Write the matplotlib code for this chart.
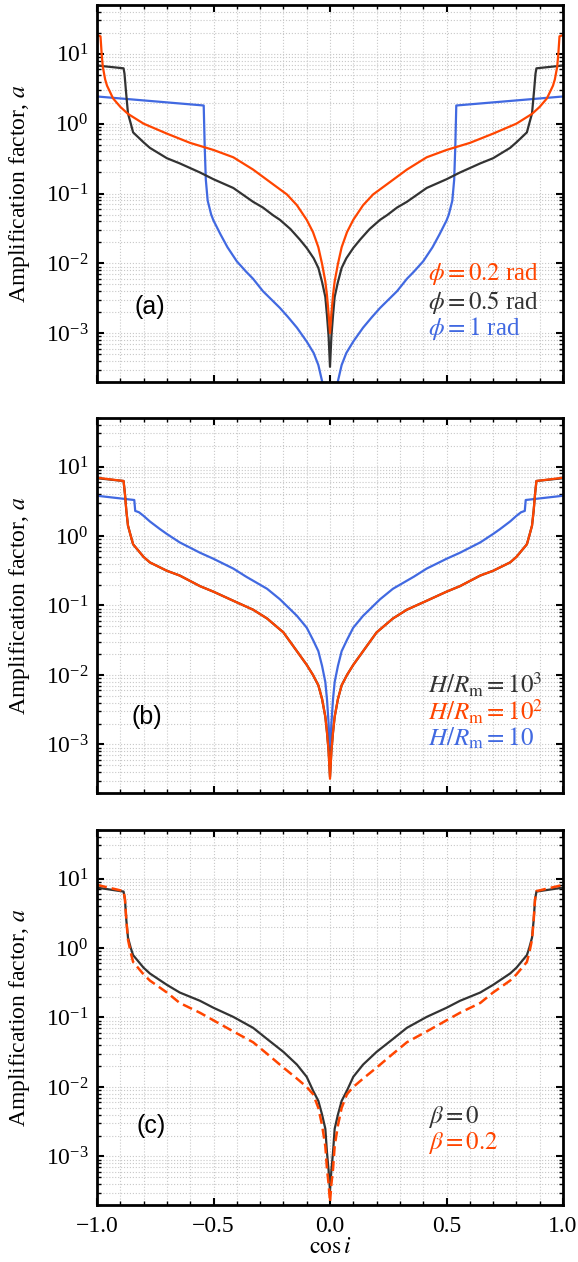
import matplotlib
matplotlib.use("Agg")
import matplotlib.pyplot as plt
from matplotlib.ticker import MultipleLocator, LogLocator, NullFormatter

plt.rcParams['font.family'] = ['Liberation Serif', 'DejaVu Serif']
plt.rcParams['mathtext.fontset'] = 'stix'

# ---------------- data: panel (a) ----------------
a_red_x = [-1.0, -0.985, -0.980, -0.975, -0.965, -0.957, -0.931, -0.90, -0.867, -0.80, -0.70, -0.60,
           -0.50, -0.415, -0.33, -0.245, -0.185, -0.142, -0.10, -0.073, -0.05, -0.034, -0.02, -0.013,
           -0.006, 0.0, 0.006, 0.013, 0.02, 0.034, 0.05, 0.073, 0.10, 0.142, 0.185, 0.245, 0.33, 0.415,
           0.50, 0.60, 0.70, 0.80, 0.867, 0.90, 0.931, 0.957, 0.965, 0.975, 0.980, 0.985, 1.0]
a_red_y = [18.5, 17.8, 10.0, 6.5, 4.3, 3.5, 2.3, 1.74, 1.38, 1.0, 0.72, 0.53,
           0.42, 0.33, 0.22, 0.136, 0.097, 0.068, 0.042, 0.028, 0.017, 0.0098, 0.0055, 0.0035,
           0.0019, 0.0010, 0.0019, 0.0035, 0.0055, 0.0098, 0.017, 0.028, 0.042, 0.068, 0.097, 0.136, 0.22, 0.33,
           0.42, 0.53, 0.72, 1.0, 1.38, 1.74, 2.3, 3.5, 4.3, 6.5, 10.0, 17.8, 18.5]

a_black_x = [-1.0, -0.886, -0.882, -0.876, -0.867, -0.855, -0.845, -0.80, -0.773, -0.70, -0.645, -0.558,
             -0.50, -0.415, -0.33, -0.288, -0.245, -0.215, -0.17, -0.13, -0.10, -0.07, -0.05, -0.034,
             -0.02, -0.013, -0.006, 0.0, 0.006, 0.013, 0.02, 0.034, 0.05, 0.07, 0.10, 0.13, 0.17, 0.215,
             0.245, 0.288, 0.33, 0.415, 0.50, 0.558, 0.645, 0.70, 0.773, 0.80, 0.845, 0.855, 0.867,
             0.876, 0.882, 0.886, 1.0]
a_black_y = [6.8, 6.2, 5.2, 3.0, 1.4, 1.0, 0.75, 0.54, 0.45, 0.32, 0.27, 0.20,
             0.16, 0.12, 0.076, 0.063, 0.049, 0.042, 0.031, 0.022, 0.0166, 0.0118, 0.0086, 0.0054,
             0.0033, 0.0018, 0.0009, 0.00033, 0.0009, 0.0018, 0.0033, 0.0054, 0.0086, 0.0118, 0.0166, 0.022,
             0.031, 0.042, 0.049, 0.063, 0.076, 0.12, 0.16, 0.20, 0.27, 0.32, 0.45, 0.54, 0.75, 1.0, 1.4,
             3.0, 5.2, 6.2, 6.8]

a_blue_x = [-1.0, -0.542, -0.538, -0.533, -0.525, -0.51, -0.50, -0.47, -0.44, -0.40, -0.36, -0.33,
            -0.288, -0.25, -0.215, -0.18, -0.142, -0.10, -0.07, -0.05, -0.03, 0.0, 0.03, 0.05, 0.07,
            0.10, 0.142, 0.18, 0.215, 0.25, 0.288, 0.33, 0.36, 0.40, 0.44, 0.47, 0.50, 0.51, 0.525,
            0.533, 0.538, 0.542, 1.0]
a_blue_y = [2.45, 1.82, 0.50, 0.158, 0.079, 0.050, 0.041, 0.026, 0.017, 0.0107, 0.0076, 0.0060,
            0.0040, 0.0030, 0.0023, 0.0017, 0.0012, 0.00076, 0.00052, 0.00035, 0.00018, 0.000063,
            0.00018, 0.00035, 0.00052, 0.00076, 0.0012, 0.0017, 0.0023, 0.0030, 0.0040, 0.0060, 0.0076,
            0.0107, 0.017, 0.026, 0.041, 0.050, 0.079, 0.158, 0.50, 1.82, 2.45]

# ---------------- data: panel (b) ----------------
b_x = [-1.0, -0.886, -0.880, -0.874, -0.867, -0.855, -0.845, -0.80, -0.773, -0.70, -0.645, -0.558,
       -0.50, -0.415, -0.33, -0.27, -0.20, -0.142, -0.10, -0.073, -0.05, -0.034, -0.02, -0.013,
       -0.006, 0.0, 0.006, 0.013, 0.02, 0.034, 0.05, 0.073, 0.10, 0.142, 0.20, 0.27, 0.33, 0.415,
       0.50, 0.558, 0.645, 0.70, 0.773, 0.80, 0.845, 0.855, 0.867, 0.874, 0.880, 0.886, 1.0]
b_black_y = [6.8, 6.2, 4.0, 2.3, 1.41, 1.0, 0.76, 0.50, 0.417, 0.316, 0.27, 0.19,
             0.158, 0.117, 0.087, 0.065, 0.041, 0.022, 0.014, 0.010, 0.0071, 0.0045, 0.0025, 0.0015,
             0.0008, 0.00034, 0.0008, 0.0015, 0.0025, 0.0045, 0.0071, 0.010, 0.014, 0.022, 0.041, 0.065,
             0.087, 0.117, 0.158, 0.19, 0.27, 0.316, 0.417, 0.50, 0.76, 1.0, 1.41, 2.3, 4.0, 6.2, 6.8]
b_red_y = [6.9, 6.2, 4.0, 2.3, 1.41, 1.0, 0.76, 0.50, 0.417, 0.316, 0.27, 0.19,
           0.158, 0.117, 0.087, 0.065, 0.041, 0.022, 0.014, 0.010, 0.0071, 0.0045, 0.0025, 0.0015,
           0.0008, 0.00032, 0.0008, 0.0015, 0.0025, 0.0045, 0.0071, 0.010, 0.014, 0.022, 0.041, 0.065,
           0.087, 0.117, 0.158, 0.19, 0.27, 0.316, 0.417, 0.50, 0.76, 1.0, 1.41, 2.3, 4.0, 6.2, 6.9]

b_blue_x = [-1.0, -0.84, -0.836, -0.82, -0.80, -0.773, -0.73, -0.70, -0.645, -0.558, -0.50, -0.415,
            -0.36, -0.27, -0.215, -0.142, -0.10, -0.073, -0.05, -0.034, -0.02, -0.013, -0.006, 0.0,
            0.006, 0.013, 0.02, 0.034, 0.05, 0.073, 0.10, 0.142, 0.215, 0.27, 0.36, 0.415, 0.50, 0.558,
            0.645, 0.70, 0.73, 0.773, 0.80, 0.82, 0.836, 0.84, 1.0]
b_blue_y = [3.8, 3.3, 2.3, 2.2, 1.95, 1.62, 1.26, 1.07, 0.81, 0.575, 0.47, 0.34,
            0.26, 0.174, 0.123, 0.071, 0.048, 0.032, 0.022, 0.0135, 0.0079, 0.0045, 0.0020, 0.00081,
            0.0020, 0.0045, 0.0079, 0.0135, 0.022, 0.032, 0.048, 0.071, 0.123, 0.174, 0.26, 0.34, 0.47,
            0.575, 0.81, 1.07, 1.26, 1.62, 1.95, 2.2, 2.3, 3.3, 3.8]

# ---------------- data: panel (c) ----------------
c_x = [-1.0, -0.886, -0.880, -0.874, -0.867, -0.855, -0.845, -0.80, -0.773, -0.70, -0.645, -0.558,
       -0.50, -0.415, -0.33, -0.27, -0.20, -0.142, -0.10, -0.073, -0.05, -0.034, -0.02, -0.013,
       -0.006, 0.0, 0.006, 0.013, 0.02, 0.034, 0.05, 0.073, 0.10, 0.142, 0.20, 0.27, 0.33, 0.415,
       0.50, 0.558, 0.645, 0.70, 0.773, 0.80, 0.845, 0.855, 0.867, 0.874, 0.880, 0.886, 1.0]
c_black_y = [7.4, 6.5, 5.0, 2.5, 1.41, 1.0, 0.79, 0.52, 0.43, 0.295, 0.229, 0.174,
             0.138, 0.102, 0.071, 0.049, 0.032, 0.021, 0.014, 0.0089, 0.0063, 0.0040, 0.0025, 0.00115,
             0.00063, 0.00032, 0.00063, 0.00115, 0.0025, 0.0040, 0.0063, 0.0089, 0.014, 0.021, 0.032,
             0.049, 0.071, 0.102, 0.138, 0.174, 0.229, 0.295, 0.43, 0.52, 0.79, 1.0, 1.41, 2.5, 5.0, 6.5, 7.4]
c_red_y = [8.1, 6.6, 5.0, 2.5, 1.32, 0.85, 0.63, 0.417, 0.34, 0.229, 0.162, 0.117,
           0.091, 0.063, 0.044, 0.030, 0.019, 0.0132, 0.010, 0.0079, 0.0050, 0.0028, 0.0014, 0.00066,
           0.0004, 0.00022, 0.0004, 0.00066, 0.0014, 0.0028, 0.0050, 0.0079, 0.010, 0.0132, 0.019,
           0.030, 0.044, 0.063, 0.091, 0.117, 0.162, 0.229, 0.34, 0.417, 0.63, 0.85, 1.32, 2.5, 5.0, 6.6, 8.1]

RED = '#FF4500'
BLACK = '#333333'
BLUE = '#4169E1'

fig = plt.figure(figsize=(5.78, 12.62), dpi=100)
W, H = 578.0, 1262.0
boxes = [(97, 5, 563, 382), (97, 418, 563, 793), (97, 830, 563, 1205)]
axes = []
for (l, t, r, b) in boxes:
    ax = fig.add_axes([l / W, 1 - b / H, (r - l) / W, (b - t) / H])
    axes.append(ax)

for i, ax in enumerate(axes):
    ax.set_yscale('log')
    ax.set_xlim(-1, 1)
    ax.set_ylim(2e-4, 50)
    ax.xaxis.set_major_locator(MultipleLocator(0.5))
    ax.xaxis.set_minor_locator(MultipleLocator(0.1))
    ax.yaxis.set_major_locator(LogLocator(base=10, numticks=20))
    ax.yaxis.set_minor_locator(LogLocator(base=10, subs=range(2, 10), numticks=20))
    ax.yaxis.set_minor_formatter(NullFormatter())
    ax.grid(which='both', linestyle=':', color='#c8c8c8', linewidth=0.8)
    ax.set_axisbelow(True)
    for s in ax.spines.values():
        s.set_linewidth(2.0)
    ax.tick_params(which='both', direction='in', top=True, right=True)
    ax.tick_params(which='major', length=5, width=1.5, labelsize=17, pad=6)
    ax.tick_params(which='minor', length=3, width=1.0)
    ax.set_ylabel('Amplification factor, $a$', fontsize=17)
    ax.yaxis.set_label_coords(-0.14, 0.5)
    if i < 2:
        ax.tick_params(labelbottom=False)

axa, axb, axc = axes

axa.plot(a_blue_x, a_blue_y, color=BLUE, lw=1.6)
axa.plot(a_black_x, a_black_y, color=BLACK, lw=1.6)
axa.plot(a_red_x, a_red_y, color=RED, lw=1.6)
axa.text(0.08, 0.2, '(a)', transform=axa.transAxes, fontsize=18, family='Liberation Sans', va='center')
axa.text(0.71, 0.287, r'$\phi = 0.2$ rad', transform=axa.transAxes, fontsize=18, color=RED, va='center')
axa.text(0.71, 0.212, r'$\phi = 0.5$ rad', transform=axa.transAxes, fontsize=18, color=BLACK, va='center')
axa.text(0.71, 0.141, r'$\phi = 1$ rad', transform=axa.transAxes, fontsize=18, color=BLUE, va='center')

axb.plot(b_blue_x, b_blue_y, color=BLUE, lw=1.6)
axb.plot(b_x, b_black_y, color=BLACK, lw=1.6)
axb.plot(b_x, b_red_y, color=RED, lw=1.6)
axb.text(0.075, 0.202, '(b)', transform=axb.transAxes, fontsize=18, family='Liberation Sans', va='center')
axb.text(0.71, 0.288, r'$H/R_\mathrm{m} = 10^3$', transform=axb.transAxes, fontsize=18, color=BLACK, va='center')
axb.text(0.71, 0.216, r'$H/R_\mathrm{m} = 10^2$', transform=axb.transAxes, fontsize=18, color=RED, va='center')
axb.text(0.71, 0.147, r'$H/R_\mathrm{m} = 10$', transform=axb.transAxes, fontsize=18, color=BLUE, va='center')

axc.plot(c_x, c_black_y, color=BLACK, lw=1.6)
axc.plot(c_x, c_red_y, color=RED, lw=1.8, ls=(0, (4, 2)))
axc.text(0.085, 0.21, '(c)', transform=axc.transAxes, fontsize=18, family='Liberation Sans', va='center')
axc.text(0.71, 0.235, r'$\beta = 0$', transform=axc.transAxes, fontsize=18, color=BLACK, va='center')
axc.text(0.71, 0.165, r'$\beta = 0.2$', transform=axc.transAxes, fontsize=18, color=RED, va='center')
axc.tick_params(axis='x', which='major', pad=8)
axc.set_xlabel(r'$\cos i$', fontsize=17, labelpad=0)

fig.savefig('out.png', dpi=100)
